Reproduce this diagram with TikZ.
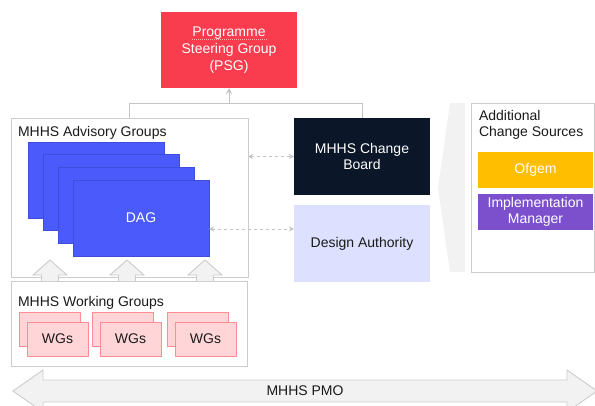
\documentclass[tikz,border=0pt]{standalone}
\usepackage{fontspec}
\setmainfont{Liberation Sans}
\usetikzlibrary{arrows.meta}
\definecolor{psgred}{HTML}{F93D4E}
\definecolor{dagblue}{HTML}{4B5BFB}
\definecolor{dagline}{HTML}{3F4DDC}
\definecolor{cbnavy}{HTML}{0B1628}
\definecolor{dalav}{HTML}{DDE0FF}
\definecolor{ofgemamber}{HTML}{FFBF00}
\definecolor{implpurple}{HTML}{7C50CC}
\definecolor{wgfill}{HTML}{FFD5D8}
\definecolor{wgline}{HTML}{FF8C95}
\definecolor{grayline}{HTML}{CCCCCC}
\definecolor{connline}{HTML}{C4C4C4}
\definecolor{softfill}{HTML}{F2F2F2}
\definecolor{darktext}{HTML}{1A1A1A}
\definecolor{ulpink}{HTML}{FFA8B0}
\begin{document}
\begin{tikzpicture}[x=1pt,y=-1pt,
  every node/.style={font=\fontsize{14}{16.7}\selectfont, inner sep=0pt, outer sep=0pt},
  frame/.style={draw=grayline, line width=0.9pt, fill=white, anchor=north west},
  solid box/.style={anchor=north west, align=center, text=white},
  dagbox/.style={anchor=north west, fill=dagblue, draw=dagline, line width=0.6pt, minimum width=136pt, minimum height=76pt},
  wgbox/.style={anchor=north west, fill=wgfill, draw=wgline, line width=0.8pt, minimum width=61pt, minimum height=34pt, text=darktext},
  lbl/.style={anchor=base west, text=darktext},
  conn/.style={draw=connline, line width=1pt},
  dasharrow/.style={draw=connline, line width=1pt, dash pattern=on 3pt off 3pt, {Stealth[length=5pt,width=5pt]}-{Stealth[length=5pt,width=5pt]}},
  blockarrow/.style={fill=softfill, draw=grayline, line width=0.9pt, line join=miter}
]
\useasboundingbox (0,0) rectangle (595,405);

% PSG
\node[solid box, fill=psgred, minimum width=136pt, minimum height=76pt] (psg) at (161,12) {};
\node[text=white, align=center] (psgtext) at (229,50) {Programme\\Steering Group\\(PSG)};
\draw[ulpink, line width=0.7pt, dash pattern=on 1pt off 1pt] ([shift={(-37,-11)}]psg.center) -- ([shift={(38,-11)}]psg.center);

% Advisory groups frame
\node[frame, minimum width=237pt, minimum height=159pt] (adv) at (11,118) {};
\node[lbl] (advlbl) at (18,136) {MHHS Advisory Groups};
\node[dagbox] (dag1) at (28,142) {};
\node[dagbox] (dag2) at (43,154.5) {};
\node[dagbox] (dag3) at (58,167) {};
\node[dagbox, text=white] (dag4) at (73,180) {DAG};

% Change board and design authority
\node[solid box, fill=cbnavy, minimum width=136pt, minimum height=77pt] (cb) at (294,118) {MHHS Change\\Board};
\node[solid box, fill=dalav, text=darktext, minimum width=136pt, minimum height=77pt] (da) at (294,205) {Design Authority};

% Connectors to PSG
\coordinate (jl) at (129,103);
\coordinate (jr) at (362,103);
\coordinate (jm) at (229,103);
\draw[conn] (jl |- adv.north) -- (jl) -- (jr) -- (jr |- cb.north);
\draw[conn, -{Stealth[length=6pt,width=6pt]}] (jm) -- (psg.south);

% Dashed arrows
\coordinate (d2) at (0,229);
\draw[dasharrow] (cb.west -| adv.east) -- (cb.west);
\draw[dasharrow] (dag4.east |- d2) -- (da.west |- d2);

% Chevron
\fill[softfill] (450,103) -- (465,103) -- (465,272) -- (450,272) -- (438,188) -- cycle;

% Additional change sources
\node[frame, minimum width=123pt, minimum height=169pt] (acs) at (471,103) {};
\node[lbl] (acslbl1) at (479,120) {Additional};
\node[lbl] (acslbl2) at (479,136.5) {Change Sources};
\node[solid box, fill=ofgemamber, minimum width=115pt, minimum height=36pt] (ofgem) at (478,152) {Ofgem};
\node[solid box, fill=implpurple, minimum width=115pt, minimum height=36pt] (impl) at (478,194) {Implementation\\Manager};

% Working groups frame
\node[frame, minimum width=236pt, minimum height=85pt] (wg) at (11,281) {};
\node[lbl] (wglbl) at (18,306) {MHHS Working Groups};
\node[wgbox] (wg1b) at (19,312) {};
\node[wgbox] (wg1f) at (27,322) {WGs};
\node[wgbox] (wg2b) at (92,312) {};
\node[wgbox] (wg2f) at (100,322) {WGs};
\node[wgbox] (wg3b) at (167,312) {};
\node[wgbox] (wg3f) at (175,322) {WGs};

% Block arrows up
\foreach \cx in {50,127,205}{
  \draw[blockarrow] (\cx-8.5,281) -- (\cx-8.5,275) -- (\cx-17,275) -- (\cx,260) -- (\cx+17,275) -- (\cx+8.5,275) -- (\cx+8.5,281);
}

% PMO double arrow
\draw[blockarrow] (13,391) -- (43,370) -- (43,380) -- (567,380) -- (567,370) -- (597,391) -- (567,412) -- (567,402) -- (43,402) -- (43,412) -- cycle;
\node[text=darktext] (pmo) at (305,391) {MHHS PMO};
\end{tikzpicture}
\end{document}
